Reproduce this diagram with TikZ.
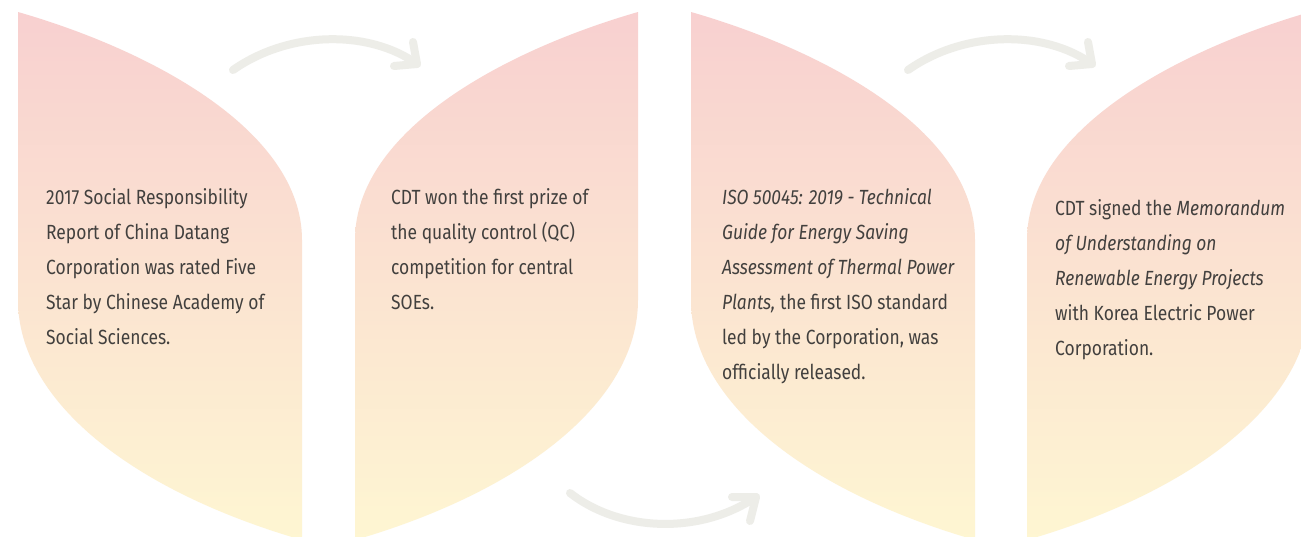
\documentclass[tikz,border=0pt]{standalone}
\usepackage{fontspec}
\setmainfont{Fira Sans}[FakeStretch=0.85]
\definecolor{leaftop}{RGB}{248,208,208}
\definecolor{leafbot}{RGB}{254,246,210}
\definecolor{arrowc}{RGB}{237,237,232}
\definecolor{txtc}{RGB}{66,64,62}
\tikzset{
  leaf/.style={top color=leaftop, bottom color=leafbot, draw=none},
  arrowline/.style={draw=arrowc, line width=8pt, line cap=round, line join=round},
  txt/.style={anchor=north west, inner sep=0pt, align=left, text=txtc,
    font=\fontsize{20.5}{35}\selectfont}
}
\begin{document}
\begin{tikzpicture}[x=1pt,y=-1pt]
\useasboundingbox (0,0) rectangle (1301,536);
\clip (0,0) rectangle (1301,536);
\fill[white] (0,0) rectangle (1301,536);
% leaves
\path[leaf] (18,12) .. controls (150,50) and (302,130) .. (302,240) -- (302,540)
  .. controls (130,490) and (18,400) .. (18,300) -- cycle;
\path[leaf] (638,12) .. controls (506,50) and (355,130) .. (355,240) -- (355,540)
  .. controls (526,490) and (638,400) .. (638,300) -- cycle;
\path[leaf] (691,12) .. controls (823,50) and (975,130) .. (975,240) -- (975,540)
  .. controls (803,490) and (691,400) .. (691,300) -- cycle;
\path[leaf] (1310,12) .. controls (1178,50) and (1027,130) .. (1027,240) -- (1027,540)
  .. controls (1198,490) and (1310,400) .. (1310,300) -- cycle;
% arrows
\coordinate (a1s) at (233,70);
\coordinate (a1t) at (417,64);
\coordinate (a1u) at (413,42);
\coordinate (a1l) at (394,66);
\draw[arrowline] (a1s) .. controls (290,30) and (370,30) .. (a1t);
\draw[arrowline] (a1u) -- (a1t) -- (a1l);
\coordinate (a2s) at (570,493);
\coordinate (a2t) at (756,497);
\coordinate (a2l) at (732,497);
\coordinate (a2d) at (750,521);
\draw[arrowline] (a2s) .. controls (620,532) and (700,535) .. (a2t);
\draw[arrowline] (a2l) -- (a2t) -- (a2d);
\coordinate (a3s) at (908,70);
\coordinate (a3t) at (1092,64);
\coordinate (a3u) at (1088,42);
\coordinate (a3l) at (1069,66);
\draw[arrowline] (a3s) .. controls (965,30) and (1045,30) .. (a3t);
\draw[arrowline] (a3u) -- (a3t) -- (a3l);
% texts
\node[txt] (t1) at (46,188) {2017 Social Responsibility\\Report of China Datang\\Corporation was rated Five\\Star by Chinese Academy of\\Social Sciences.};
\node[txt] (t2) at (391,188) {CDT won the first prize of\\the quality control (QC)\\competition for central\\SOEs.};
\node[txt] (t3) at (722,188) {\textit{ISO 50045: 2019 - Technical}\\\textit{Guide for Energy Saving}\\\textit{Assessment of Thermal Power}\\\textit{Plants,} the first ISO standard\\led by the Corporation, was\\officially released.};
\node[txt] (t4) at (1055,199) {CDT signed the \textit{Memorandum}\\\textit{of Understanding on}\\\textit{Renewable Energy Projects}\\with Korea Electric Power\\Corporation.};
\end{tikzpicture}
\end{document}
